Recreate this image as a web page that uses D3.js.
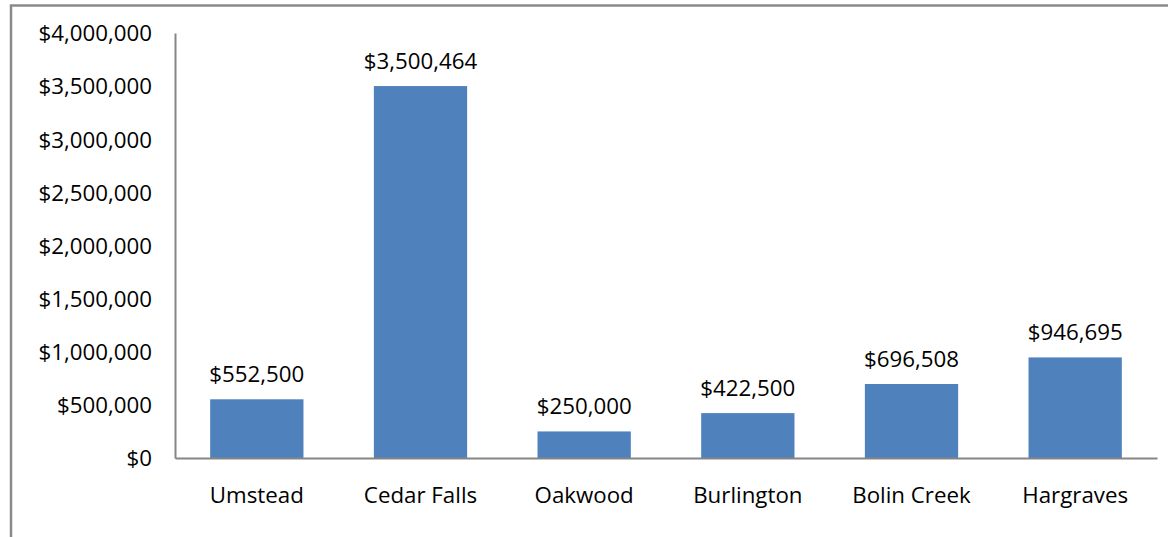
<!DOCTYPE html>
<html>
<head>
<meta charset="utf-8">
<script src="https://cdn.jsdelivr.net/npm/d3@7"></script>
<style>
  body { margin: 0; background: #fff; }
  svg text { font-family: "Open Sans", sans-serif; font-size: 22.3px; fill: #000; }
</style>
</head>
<body>
<div id="chart"></div>
<script>
const categories = ["Umstead", "Cedar Falls", "Oakwood", "Burlington", "Bolin Creek", "Hargraves"];
const values = [552500, 3500464, 250000, 422500, 696508, 946695];
const yTicks = [0, 500000, 1000000, 1500000, 2000000, 2500000, 3000000, 3500000, 4000000];

const width = 1168, height = 537;
const margin = { left: 175, right: 11, top: 33, bottom: 79 };

const svg = d3.select("#chart").append("svg")
    .attr("width", width)
    .attr("height", height);

// outer chart border (cut off at right and bottom)
svg.append("rect")
    .attr("x", 11).attr("y", 5.5)
    .attr("width", 1300).attr("height", 700)
    .attr("fill", "none")
    .attr("stroke", "#8a8a8a")
    .attr("stroke-width", 2.5);

const x = d3.scaleBand()
    .domain(categories)
    .range([margin.left, width - margin.right])
    .paddingInner(0.43)
    .paddingOuter(0.215);

const y = d3.scaleLinear()
    .domain([0, 4000000])
    .range([height - margin.bottom, margin.top]);

const fmt = v => "$" + d3.format(",")(v);

// bars
svg.selectAll("rect.bar")
    .data(values)
    .enter()
    .append("rect")
    .attr("class", "bar")
    .attr("x", (d, i) => x(categories[i]))
    .attr("y", d => y(d))
    .attr("width", x.bandwidth())
    .attr("height", d => y(0) - y(d))
    .attr("fill", "#4f81bd");

// value labels
svg.selectAll("text.val")
    .data(values)
    .enter()
    .append("text")
    .attr("class", "val")
    .attr("x", (d, i) => x(categories[i]) + x.bandwidth() / 2)
    .attr("y", d => y(d) - 17)
    .attr("text-anchor", "middle")
    .text(fmt);

// y axis
const yAxis = d3.axisLeft(y).tickValues(yTicks).tickFormat(fmt).tickSize(0).tickPadding(23);
const gy = svg.append("g").attr("transform", `translate(${margin.left},0)`).call(yAxis);
gy.select(".domain").attr("stroke", "#868686").attr("stroke-width", 2);
gy.selectAll("text").attr("dy", "0.35em");

// x axis
const xAxis = d3.axisBottom(x).tickSize(0).tickPadding(29);
const gx = svg.append("g").attr("transform", `translate(0,${y(0)})`).call(xAxis);
gx.select(".domain").attr("stroke", "#868686").attr("stroke-width", 2);
</script>
</body>
</html>
